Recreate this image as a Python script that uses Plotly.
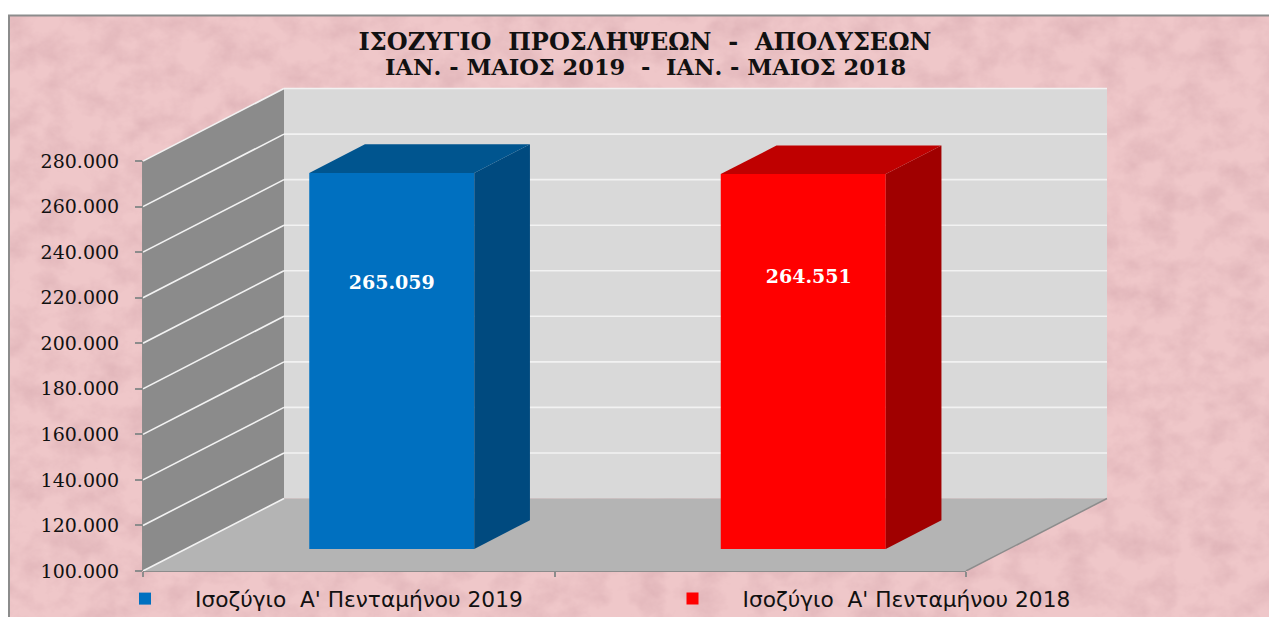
import base64
import plotly.graph_objects as go

# ---------- data ----------
title_lines = ["ΙΣΟΖΥΓΙΟ\u00a0\u00a0ΠΡΟΣΛΗΨΕΩΝ\u00a0\u00a0-\u00a0\u00a0ΑΠΟΛΥΣΕΩΝ",
               "ΙΑΝ. - ΜΑΙΟΣ 2019\u00a0\u00a0-\u00a0\u00a0ΙΑΝ. - ΜΑΙΟΣ 2018"]
series_names = ["Ισοζύγιο\u00a0\u00a0Α' Πενταμήνου 2019", "Ισοζύγιο\u00a0\u00a0Α' Πενταμήνου 2018"]
values = [265059, 264551]
y_ticks = [100000, 120000, 140000, 160000, 180000, 200000, 220000, 240000, 260000, 280000]

# ---------- style ----------
W, H = 1269, 617
L, R, T, B = 143, 1108, 85, 571          # plot window, figure pixels
FRAME_X, FRAME_Y = 9, 15.5
CAT_PX = 411.5                           # pixels per category
VAL_PX = 45.55 / 20000                   # pixels per unit
FLOOR, TOP_VAL = y_ticks[0], y_ticks[-1]
DX, DY = 141 / CAT_PX, 72.5 / VAL_PX     # full depth of the 3-D box, in axis units
D_FRONT, D_BACK = 0.305, 0.70            # bar depth as share of the box
BAR_W = 165 / CAT_PX
front = ["#0070C0", "#FF0000"]
top_c = ["#00558F", "#BF0000"]
side_c = ["#004A7F", "#A00000"]
label_lift = [-77, -83]                  # label position relative to bar centre, px
label_shift = [0, 5.5]
GREY = "#8C8C8C"
INK = "#111111"

x_range = [-0.5, -0.5 + (R - L) / CAT_PX]
y_range = [FLOOR, FLOOR + (B - T) / VAL_PX]


def proj(c, v, d):
    return c + d * DX, v + d * DY


def path(pts):
    return "M" + " L".join(f"{x},{y}" for x, y in pts) + " Z"


def px(x):
    return (x - L) / (R - L)


def py(y):
    return (B - y) / (B - T)


bg = f"""<svg xmlns='http://www.w3.org/2000/svg' width='{W}' height='{H}'>
<filter id='a' x='0' y='0' width='100%' height='100%'><feTurbulence type='fractalNoise' baseFrequency='0.035 0.04' numOctaves='5' seed='11'/>
<feColorMatrix values='0 0 0 0 0.68 0 0 0 0 0.40 0 0 0 0 0.43 1.1 0 0 0 -0.40'/></filter>
<rect width='100%' height='100%' fill='#EFC7C9'/><rect width='100%' height='100%' filter='url(#a)'/></svg>"""
bg_uri = "data:image/svg+xml;base64," + base64.b64encode(bg.encode()).decode()

shapes = []
# box walls
c0, c1 = x_range[0], 1.5
shapes.append(dict(type="path", path=path([proj(c0, FLOOR, 0), proj(c0, TOP_VAL, 0), proj(c0, TOP_VAL, 1), proj(c0, FLOOR, 1)]),
                   fillcolor="#8B8B8B", line_width=0, layer="below"))
shapes.append(dict(type="path", path=path([proj(c0, FLOOR, 1), proj(c0, TOP_VAL, 1), proj(c1, TOP_VAL, 1), proj(c1, FLOOR, 1)]),
                   fillcolor="#D9D9D9", line_width=0, layer="below"))
shapes.append(dict(type="path", path=path([proj(c0, FLOOR, 0), proj(c1, FLOOR, 0), proj(c1, FLOOR, 1), proj(c0, FLOOR, 1)]),
                   fillcolor="#B4B4B4", line_width=0, layer="below"))
# gridlines across left wall and back wall
for t in y_ticks:
    xa, ya = proj(c0, t, 0)
    xb, yb = proj(c0, t, 1)
    xc, yc = proj(c1, t, 1)
    shapes.append(dict(type="line", x0=xa, y0=ya, x1=xb, y1=yb, line=dict(color="#F2F2F2", width=1.6), layer="below"))
    if t != FLOOR:
        shapes.append(dict(type="line", x0=xb, y0=yb, x1=xc, y1=yc, line=dict(color="#F2F2F2", width=1.6), layer="below"))
# axis lines
shapes.append(dict(type="line", xref="x", yref="paper", x0=c0, x1=c1, y0=0, y1=0, line=dict(color=GREY, width=2), layer="below"))
shapes.append(dict(type="line", xref="paper", yref="y", x0=0, x1=0, y0=FLOOR, y1=TOP_VAL, line=dict(color=GREY, width=2), layer="below"))
xa, ya = proj(c1, FLOOR, 0)
xb, yb = proj(c1, FLOOR, 1)
shapes.append(dict(type="line", x0=xa, y0=ya, x1=xb, y1=yb, line=dict(color=GREY, width=1.5), layer="below"))
# chart frame
shapes.insert(0, dict(type="rect", xref="paper", yref="paper", x0=px(FRAME_X), x1=px(W + 5), y0=py(H + 5), y1=py(FRAME_Y),
                      line=dict(color=GREY, width=2), fillcolor="rgba(0,0,0,0)", layer="below"))

fig = go.Figure()
legend_ids = ["legend", "legend2"]
for i, (name, v) in enumerate(zip(series_names, values)):
    xf, bf = proj(i, FLOOR, D_FRONT)
    fig.add_trace(go.Bar(x=[xf], y=[v - FLOOR], base=[bf], width=BAR_W, name=name, legend=legend_ids[i],
                         marker=dict(color=front[i], line_width=0), hoverinfo="skip"))
for i, v in enumerate(values):
    hw = BAR_W / 2
    ftl = proj(i - hw, v, D_FRONT)
    ftr = proj(i + hw, v, D_FRONT)
    btl = proj(i - hw, v, D_BACK)
    btr = proj(i + hw, v, D_BACK)
    fbr = proj(i + hw, FLOOR, D_FRONT)
    bbr = proj(i + hw, FLOOR, D_BACK)
    for pts, col in (([ftr, btr, bbr, fbr, ftr], side_c[i]), ([ftl, btl, btr, ftr, ftl], top_c[i])):
        fig.add_trace(go.Scatter(x=[p[0] for p in pts], y=[p[1] for p in pts], mode="lines", fill="toself",
                                 fillcolor=col, line=dict(width=0, color=col), showlegend=False, hoverinfo="skip"))
    xc_, yc_ = proj(i, (v + FLOOR) / 2, D_FRONT)
    fig.add_trace(go.Scatter(x=[xc_ + label_shift[i] / CAT_PX], y=[yc_ - label_lift[i] / VAL_PX], mode="text",
                             text=[f"{v:,}".replace(",", ".")], showlegend=False, hoverinfo="skip",
                             textfont=dict(family="DejaVu Serif", size=19, color="white", weight="bold")))

legend_style = dict(yref="container", xref="container", y=1 - 578 / H, xanchor="left", yanchor="top",
                    itemwidth=90, bgcolor="rgba(0,0,0,0)",
                    font=dict(family="DejaVu Sans", size=21.7, color=INK))

fig.update_layout(
    width=W, height=H, autosize=False,
    margin=dict(l=L, r=W - R, t=T, b=H - B, pad=0, autoexpand=False),
    paper_bgcolor="white", plot_bgcolor="rgba(0,0,0,0)",
    separators=",.", barmode="overlay", shapes=shapes,
    images=[dict(source=bg_uri, xref="paper", yref="paper", x=px(FRAME_X), y=py(FRAME_Y), sizex=px(W + 5) - px(FRAME_X),
                 sizey=py(FRAME_Y) - py(H + 5), xanchor="left", yanchor="top", sizing="stretch", layer="below")],
    title=dict(text=title_lines[0], x=645 / W, xanchor="center", y=1 - 42 / H, yanchor="middle",
               font=dict(family="DejaVu Serif", size=24, color=INK, weight="bold")),
    annotations=[dict(text=title_lines[1], xref="paper", yref="paper", x=px(645), y=py(67), showarrow=False,
                      xanchor="center", yanchor="middle",
                      font=dict(family="DejaVu Serif", size=22.5, color=INK, weight="bold"))],
    xaxis=dict(range=x_range, tickvals=[-0.5, 0.5, 1.5], ticktext=["", "", ""], ticks="outside", ticklen=5,
               tickcolor=GREY, tickwidth=1.5, showgrid=False, zeroline=False, showline=False),
    yaxis=dict(range=y_range, tickvals=y_ticks, tickformat=",d", ticks="outside", ticklen=7, tickcolor=GREY,
               tickwidth=1.5, showgrid=False, zeroline=False, showline=False, ticklabelstandoff=12,
               tickfont=dict(family="DejaVu Serif", size=19, color=INK)),
    legend=dict(x=95 / W, **legend_style),
    legend2=dict(x=642.5 / W, **legend_style),
)
fig.write_html("out.html", config={"displayModeBar": False},
               post_script="document.body.style.margin='0';document.documentElement.style.overflow='hidden';")
